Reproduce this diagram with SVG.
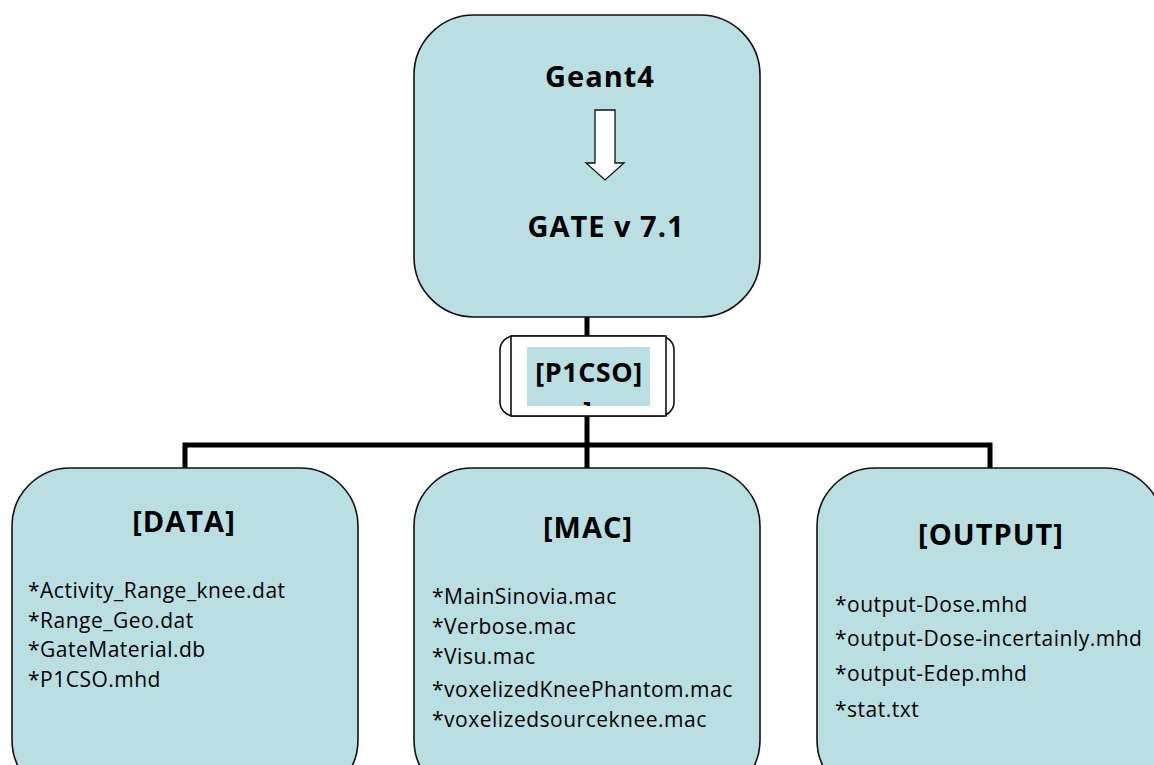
<svg xmlns="http://www.w3.org/2000/svg" width="1154" height="765" viewBox="0 0 1154 765">
<style>
.box{fill:#B9DFE3;stroke:#111;stroke-width:1.6}
.conn{stroke:#000;stroke-width:5;fill:none}
.title{font-family:"Open Sans","Liberation Sans",sans-serif;font-weight:bold;font-size:29px;letter-spacing:1px;fill:#000;text-anchor:middle}
.item{font-family:"Open Sans","Liberation Sans",sans-serif;font-size:21px;letter-spacing:0.5px;fill:#000}
</style>
<defs>
<clipPath id="clipP"><rect x="527" y="347" width="123" height="59"/></clipPath>
</defs>
<rect width="1154" height="765" fill="#fff"/>
<g id="connectors">
<line class="conn" x1="587" y1="316" x2="587" y2="338"/>
<line class="conn" x1="587" y1="414" x2="587" y2="447"/>
<polyline class="conn" points="185,470 185,445 990,445 990,470"/>
<line class="conn" x1="587" y1="445" x2="587" y2="470"/>
</g>
<g id="node-gate">
<rect class="box" x="414" y="15" width="346" height="302" rx="60" ry="60"/>
<text class="title" x="600" y="87">Geant4</text>
<polygon points="595,110 615,110 615,163 624,163 605,180 586,163 595,163" fill="#fff" stroke="#111" stroke-width="1.3"/>
<text class="title" x="606" y="237">GATE v 7.1</text>
</g>
<g id="node-p1cso">
<rect x="500" y="336" width="174" height="80" rx="14" ry="14" fill="#fff" stroke="#111" stroke-width="1.6"/>
<rect x="511" y="336" width="155" height="80" fill="#fff" stroke="#111" stroke-width="1.6"/>
<rect x="527" y="347" width="123" height="59" fill="#B9DFE3"/>
<text class="title" x="589" y="382" style="font-size:27px;letter-spacing:0.5px">[P1CSO]</text>
<text class="title" x="588" y="421" style="font-size:26px" clip-path="url(#clipP)">]</text>
</g>
<g id="node-data">
<rect class="box" x="12" y="468" width="346" height="330" rx="58" ry="58"/>
<text class="title" x="184" y="532">[DATA]</text>
<text class="item" x="28" y="598">*Activity_Range_knee.dat</text>
<text class="item" x="28" y="628">*Range_Geo.dat</text>
<text class="item" x="28" y="657">*GateMaterial.db</text>
<text class="item" x="28" y="687">*P1CSO.mhd</text>
</g>
<g id="node-mac">
<rect class="box" x="414" y="468" width="346" height="330" rx="58" ry="58"/>
<text class="title" x="588" y="538">[MAC]</text>
<text class="item" x="432" y="604">*MainSinovia.mac</text>
<text class="item" x="432" y="634">*Verbose.mac</text>
<text class="item" x="432" y="664">*Visu.mac</text>
<text class="item" x="432" y="697">*voxelizedKneePhantom.mac</text>
<text class="item" x="432" y="727">*voxelizedsourceknee.mac</text>
</g>
<g id="node-output">
<rect class="box" x="817" y="468" width="346" height="330" rx="58" ry="58"/>
<text class="title" x="991" y="545">[OUTPUT]</text>
<text class="item" x="835" y="612">*output-Dose.mhd</text>
<text class="item" x="835" y="646">*output-Dose-incertainly.mhd</text>
<text class="item" x="835" y="681">*output-Edep.mhd</text>
<text class="item" x="835" y="717">*stat.txt</text>
</g>
</svg>
